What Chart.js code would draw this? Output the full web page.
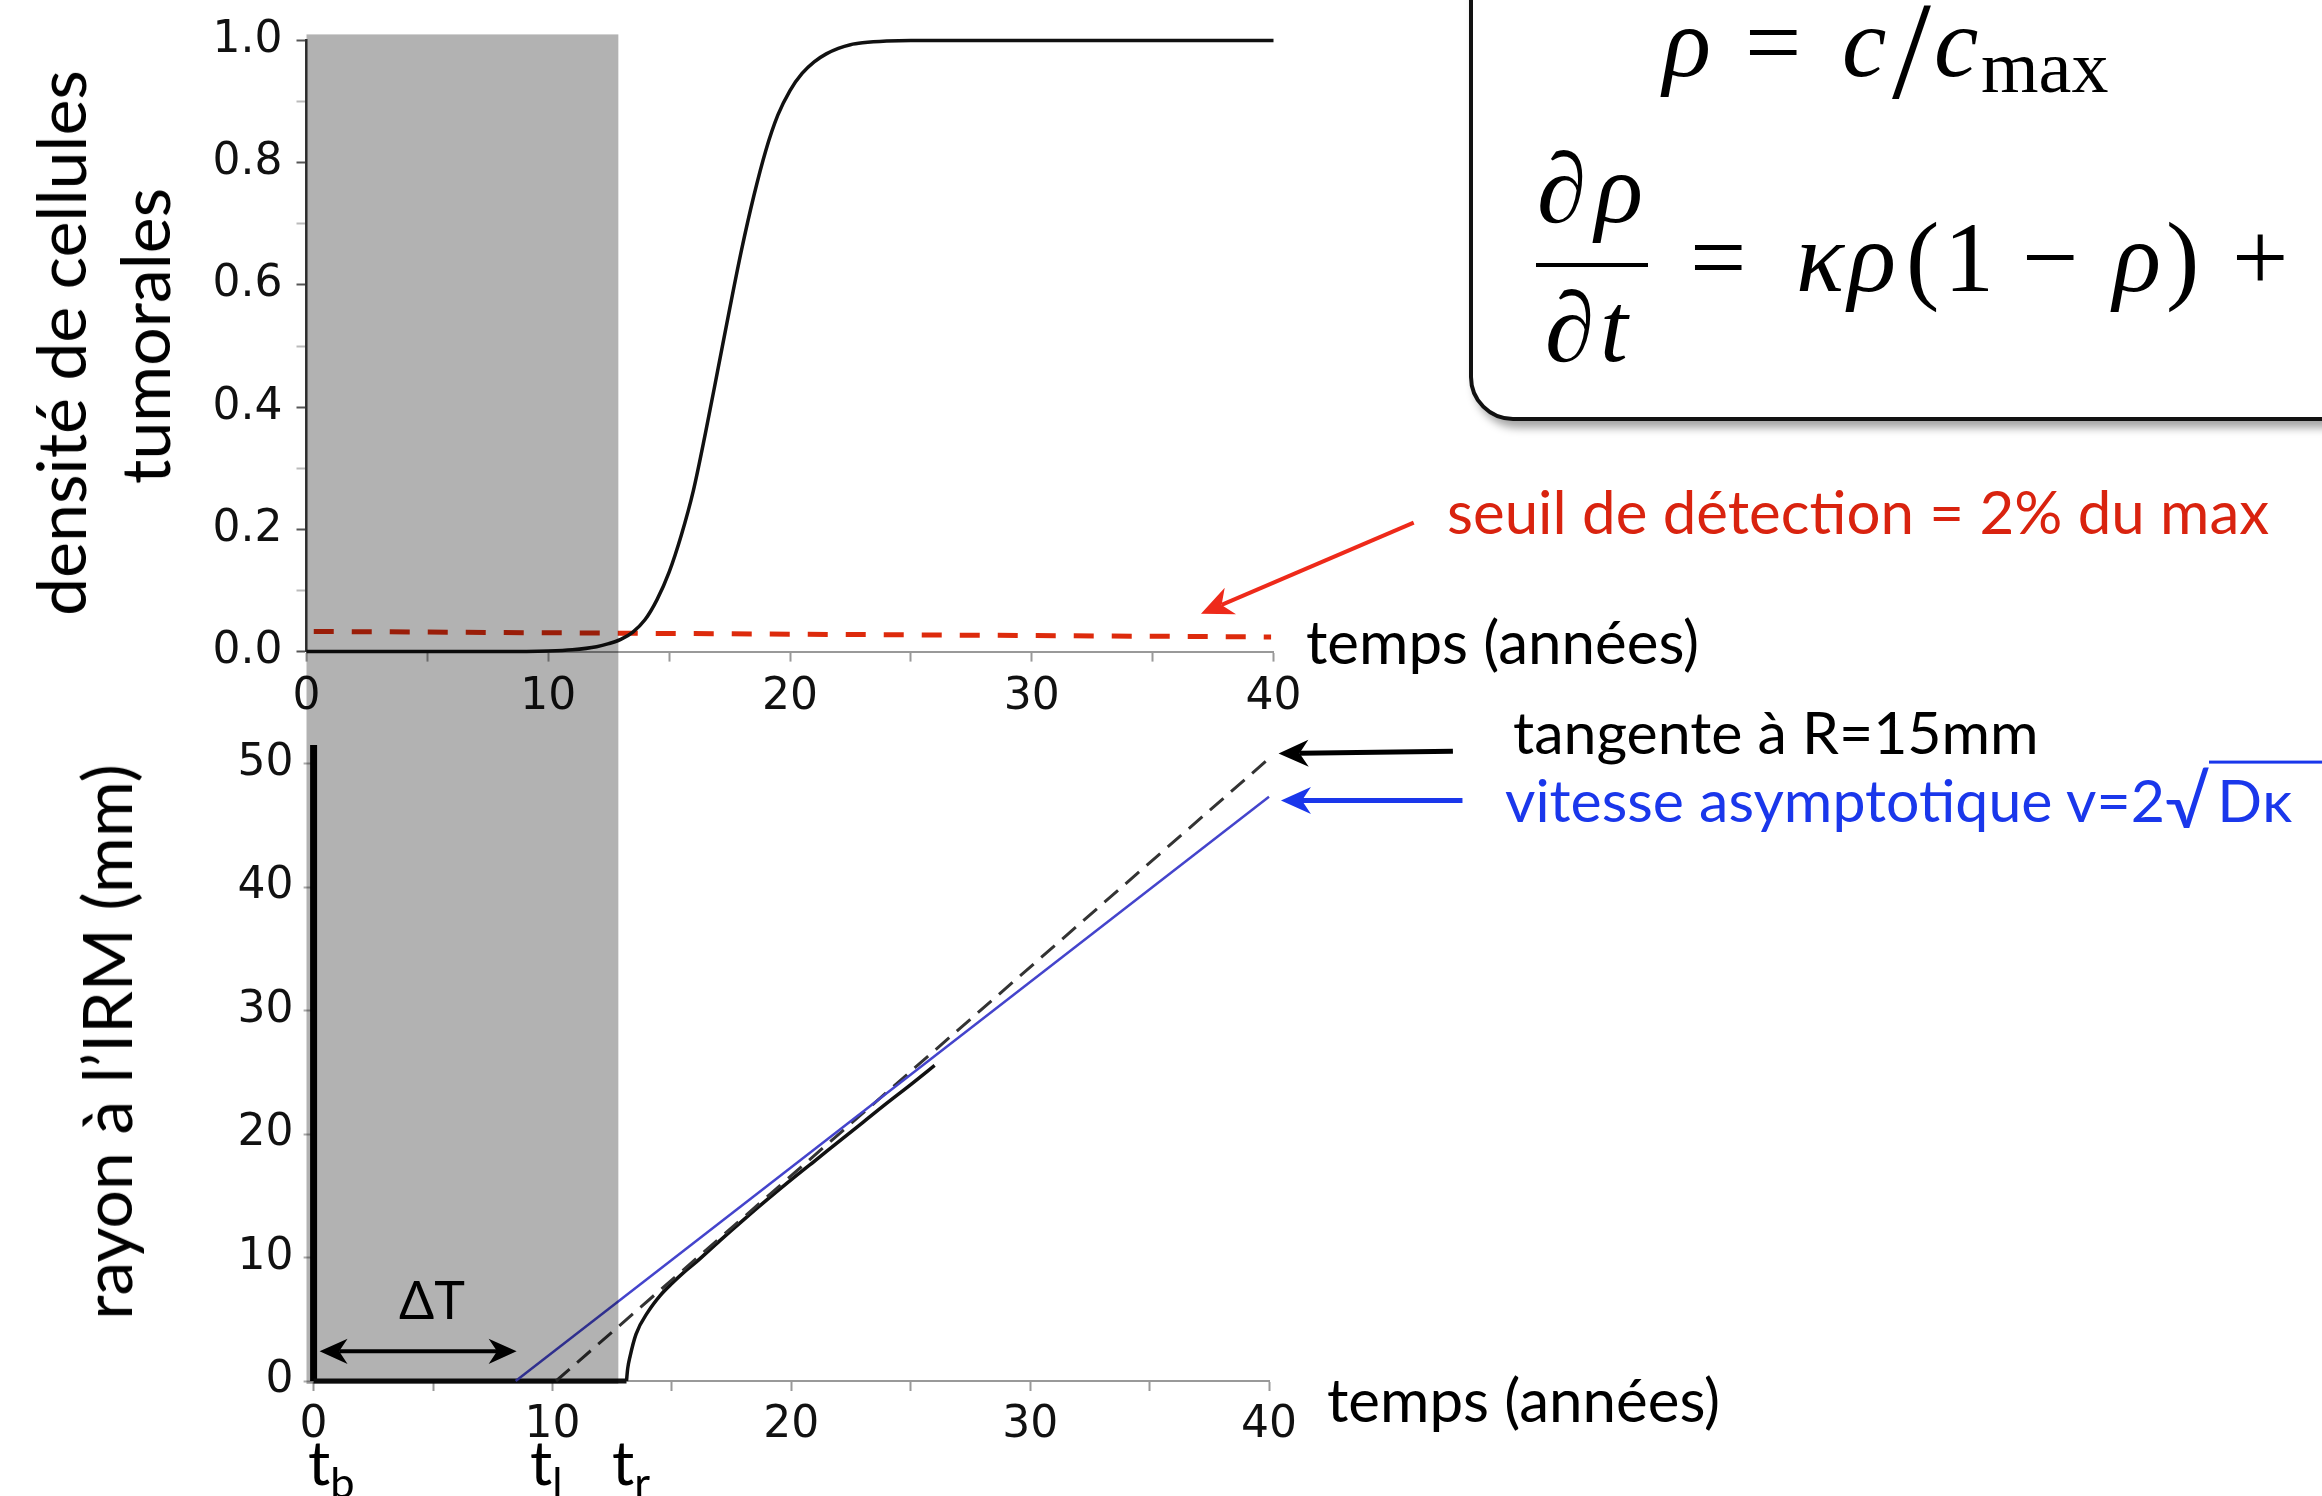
<!DOCTYPE html>
<html>
<head>
<meta charset="utf-8">
<script src="https://cdn.jsdelivr.net/npm/chart.js"></script>
<style>
body { margin:0; width:2322px; height:1496px; overflow:hidden; background:#fff; position:relative; }
canvas { position:absolute; left:0; top:0; }
.t { position:absolute; white-space:nowrap; font-family:Lato, 'Open Sans', sans-serif; line-height:1; color:#000; }
.mid { transform:translate(0,-50%); }
.rot { transform:translate(-50%,-50%) rotate(-90deg); }
.ctr { transform:translate(-50%,-50%); }
.t sub { font-size:0.7em; vertical-align:-0.3em; }
#eqbox { position:absolute; left:1469px; top:-80px; width:1000px; height:501px; box-sizing:border-box;
  border:4px solid #111; border-radius:44px; box-shadow:5px 7px 9px rgba(0,0,0,0.35); background:#fff; }
.m { position:absolute; white-space:nowrap; font-family:'Liberation Serif','DejaVu Serif',serif; line-height:1; color:#000; }
.l1 { font-size:100px; top:-7px; }
.l2 { font-size:100px; top:208px; }
.num { font-size:100px; top:139px; }
.den { font-size:100px; top:278px; }
.it { font-style:italic; }
#fracbar { position:absolute; left:1536px; top:263px; width:112px; height:4px; background:#000; }
.sq { font-size:1.2em; vertical-align:-0.08em; }
.ov { border-top:3px solid #1a37eb; padding-left:8px; padding-right:80px; }
</style>
</head>
<body>
<canvas id="chartTop" width="2322" height="1496"></canvas>
<canvas id="chartBottom" width="2322" height="1496"></canvas>

<div class="t rot" style="left:60px; top:343px; font-size:68px">densité de cellules</div>
<div class="t rot" style="left:144px; top:336px; font-size:68px">tumorales</div>
<div class="t rot" style="left:106px; top:1042px; font-size:68px">rayon à l’IRM (mm)</div>

<div class="t mid" style="left:1306px; top:641px; font-size:60px">temps (années)</div>
<div class="t mid" style="left:1327px; top:1399px; font-size:60px">temps (années)</div>
<div class="t mid" style="left:1447px; top:511px; font-size:60px; color:#d9230f">seuil de détection = 2% du max</div>
<div class="t mid" style="left:1513px; top:731px; font-size:59px">tangente à R=15mm</div>
<div class="t mid" style="left:1505px; top:801px; font-size:59px; color:#1a37eb">vitesse asymptotique v=2<span class="sq">√</span><span class="ov">Dκ</span></div>

<div class="t ctr" style="left:432px; top:1299px; font-size:52px">ΔT</div>
<div class="t" style="left:308px; top:1430px; font-size:62px">t<sub>b</sub></div>
<div class="t" style="left:530px; top:1430px; font-size:62px">t<sub>l</sub></div>
<div class="t" style="left:612px; top:1430px; font-size:62px">t<sub>r</sub></div>

<div id="eqbox"></div>
<span class="m l1 it" style="left:1663px">ρ</span>
<span class="m l1" style="left:1745px">=</span>
<span class="m l1 it" style="left:1842px">c</span>
<span class="m" style="left:1892px; top:-19px; font-size:140px">/</span>
<span class="m l1 it" style="left:1934px">c</span>
<span class="m" style="left:1981px; top:30px; font-size:74px">max</span>

<span class="m num it" style="left:1537px">∂</span>
<span class="m num it" style="left:1595px">ρ</span>
<div id="fracbar"></div>
<span class="m den it" style="left:1545px">∂</span>
<span class="m den it" style="left:1600px">t</span>

<span class="m l2" style="left:1690px">=</span>
<span class="m l2 it" style="left:1796px">κ</span>
<span class="m l2 it" style="left:1848px">ρ</span>
<span class="m l2" style="left:1906px">(</span>
<span class="m l2" style="left:1944px">1</span>
<span class="m l2" style="left:2022px">−</span>
<span class="m l2 it" style="left:2113px">ρ</span>
<span class="m l2" style="left:2166px">)</span>
<span class="m l2" style="left:2232px">+</span>

<script>
var rhoT = [0, 8, 10, 11, 12, 12.5, 13.0, 13.5, 14.0, 14.5, 15.0, 15.5, 16.0, 16.5, 17.0, 17.5, 18.0, 18.5, 19.0, 19.5, 20.0, 20.5, 21.0, 21.5, 22.0, 22.5, 23.0, 24.0, 25.0, 40];
var rhoV = [0, 0, 0.001, 0.003, 0.008, 0.013, 0.020, 0.032, 0.052, 0.085, 0.130, 0.190, 0.263, 0.357, 0.458, 0.560, 0.658, 0.745, 0.820, 0.878, 0.918, 0.946, 0.965, 0.978, 0.987, 0.993, 0.996, 0.999, 1.0, 1.0];
// seuil de detection (pointilles rouges)
var seuilT = [0.3, 39.9];
var seuilV = [0.033, 0.024];

// rayon visible a l'IRM
var rayonT = [13.1, 13.15, 13.25, 13.5, 14, 14.5, 15, 15.5, 16, 17, 18, 19, 20, 21, 22, 23, 24, 25, 26];
var rayonV = [0, 1.0, 2.0, 3.8, 5.6, 6.9, 7.9, 8.8, 9.6, 11.35, 13.05, 14.7, 16.3, 17.85, 19.4, 20.95, 22.5, 24.0, 25.55];
var plateT = [0, 13.1];
var plateV = [0, 0];
var tbT = [0, 0];
var tbV = [0, 51.5];
var asympT = [8.46, 40];
var asympV = [0, 47.3];
var tangT = [10.15, 40];
var tangV = [0, 50.4];

// zone grisee (avant detection)
var shade = [0, 12.9];

// fleches [x1, y1, x2, y2] en unites des axes
var seuilArrow = [45.8, 0.211, 37.0, 0.062];
var tangArrow = [47.7, 51.0, 40.4, 50.8];
var asympArrow = [48.1, 47.0, 40.5, 47.0];
var deltaArrow = [0.25, 2.4, 8.5, 2.4];

var xLabels = [0, 10, 20, 30, 40];
var rhoLabels = [0, 0.2, 0.4, 0.6, 0.8, 1.0];
var rayonLabels = [0, 10, 20, 30, 40, 50];

var W = 2322, H = 1496;
var tickFont = { family: 'DejaVu Sans', size: 44 };

function pts(xs, ys) {
    return xs.map(function (x, i) { return { x: x, y: ys[i] }; });
}

function head(ctx, x, y, a, hl, hw) {
    ctx.beginPath();
    ctx.moveTo(x, y);
    ctx.lineTo(x - hl * Math.cos(a) + hw * Math.sin(a), y - hl * Math.sin(a) - hw * Math.cos(a));
    ctx.lineTo(x - hl * 0.7 * Math.cos(a), y - hl * 0.7 * Math.sin(a));
    ctx.lineTo(x - hl * Math.cos(a) - hw * Math.sin(a), y - hl * Math.sin(a) + hw * Math.cos(a));
    ctx.closePath();
    ctx.fill();
}

function arrow(chart, a, color, w, hl, both) {
    var xs = chart.scales.x, ys = chart.scales.y, ctx = chart.ctx;
    var x1 = xs.getPixelForValue(a[0]), y1 = ys.getPixelForValue(a[1]);
    var x2 = xs.getPixelForValue(a[2]), y2 = ys.getPixelForValue(a[3]);
    var ang = Math.atan2(y2 - y1, x2 - x1);
    var c = Math.cos(ang), s = Math.sin(ang);
    ctx.save();
    ctx.strokeStyle = color;
    ctx.fillStyle = color;
    ctx.lineWidth = w;
    ctx.beginPath();
    ctx.moveTo(both ? x1 + c * hl * 0.7 : x1, both ? y1 + s * hl * 0.7 : y1);
    ctx.lineTo(x2 - c * hl * 0.7, y2 - s * hl * 0.7);
    ctx.stroke();
    head(ctx, x2, y2, ang, hl, hl * 0.45);
    if (both) head(ctx, x1, y1, ang + Math.PI, hl, hl * 0.45);
    ctx.restore();
}

var topNotes = {
    id: 'topNotes',
    afterDraw: function (chart) {
        arrow(chart, seuilArrow, '#ee2a1a', 4, 32, false);
    }
};

var topChart = new Chart(document.getElementById('chartTop'), {
    type: 'line',
    data: {
        datasets: [
            { data: pts(rhoT, rhoV), borderColor: '#111', borderWidth: 3.5, cubicInterpolationMode: 'monotone', pointRadius: 0, clip: false },
            { data: pts(seuilT, seuilV), borderColor: '#dd2a0c', borderWidth: 5, borderDash: [20, 18], pointRadius: 0, clip: false }
        ]
    },
    options: {
        responsive: false,
        animation: false,
        devicePixelRatio: 1,
        layout: { padding: { top: 32.6, right: W - 1273.5, left: 0, bottom: 0 } },
        plugins: { legend: { display: false }, tooltip: { enabled: false } },
        scales: {
            x: {
                type: 'linear', min: 0, max: 40,
                grid: { drawOnChartArea: false, tickLength: 10, tickColor: '#999', tickWidth: 2 },
                border: { color: '#999', width: 2 },
                ticks: {
                    stepSize: 5, autoSkip: false, maxRotation: 0, padding: 10, color: '#111', font: tickFont,
                    callback: function (v) { return xLabels.indexOf(v) >= 0 ? String(v) : ''; }
                },
                afterFit: function (s) { s.height = H - 651.6; }
            },
            y: {
                min: 0, max: 1,
                grid: {
                    drawOnChartArea: false, tickLength: 10, tickWidth: 2,
                    tickColor: function (c) { return Math.round(c.tick.value * 10) % 2 === 0 ? '#555' : '#bbb'; }
                },
                border: { color: '#333', width: 2.5 },
                ticks: {
                    stepSize: 0.1, autoSkip: false, padding: 14, color: '#111', font: tickFont,
                    callback: function (v) {
                        var r = Math.round(v * 10) / 10;
                        return rhoLabels.indexOf(r) >= 0 ? r.toFixed(1) : '';
                    }
                },
                afterFit: function (s) { s.width = 306.5; }
            }
        }
    },
    plugins: [topNotes]
});

var bottomNotes = {
    id: 'bottomNotes',
    afterDraw: function (chart) {
        arrow(chart, tangArrow, '#000', 5, 30, false);
        arrow(chart, asympArrow, '#1a37eb', 5, 30, false);
        arrow(chart, deltaArrow, '#000', 4, 28, true);
        // voile gris sur la periode non detectee, des deux graphes
        var tx = topChart.scales.x, ty = topChart.scales.y, ys = chart.scales.y;
        var x0 = tx.getPixelForValue(shade[0]), x1 = tx.getPixelForValue(shade[1]);
        var y0 = ty.getPixelForValue(1) - 6, y1 = ys.getPixelForValue(0) + 3;
        chart.ctx.save();
        chart.ctx.fillStyle = 'rgba(0,0,0,0.3)';
        chart.ctx.fillRect(x0, y0, x1 - x0, y1 - y0);
        chart.ctx.restore();
    }
};

var bottomChart = new Chart(document.getElementById('chartBottom'), {
    type: 'line',
    data: {
        datasets: [
            { data: pts(asympT, asympV), borderColor: '#4444cc', borderWidth: 2.5, pointRadius: 0, clip: false },
            { data: pts(tangT, tangV), borderColor: '#333', borderWidth: 3, borderDash: [18, 10], pointRadius: 0, clip: false },
            { data: pts(rayonT, rayonV), borderColor: '#111', borderWidth: 3.5, cubicInterpolationMode: 'monotone', pointRadius: 0, clip: false },
            { data: pts(plateT, plateV), borderColor: '#111', borderWidth: 5, pointRadius: 0, clip: false },
            { data: pts(tbT, tbV), borderColor: '#000', borderWidth: 7, pointRadius: 0, clip: false }
        ]
    },
    options: {
        responsive: false,
        animation: false,
        devicePixelRatio: 1,
        layout: { padding: { top: 763.5, right: W - 1269, left: 0, bottom: 0 } },
        plugins: { legend: { display: false }, tooltip: { enabled: false } },
        scales: {
            x: {
                type: 'linear', min: 0, max: 40,
                grid: { drawOnChartArea: false, tickLength: 10, tickColor: '#999', tickWidth: 2 },
                border: { color: '#999', width: 2 },
                ticks: {
                    stepSize: 5, autoSkip: false, maxRotation: 0, padding: 8, color: '#111', font: tickFont,
                    callback: function (v) { return xLabels.indexOf(v) >= 0 ? String(v) : ''; }
                },
                afterFit: function (s) { s.height = H - 1381; }
            },
            y: {
                min: 0, max: 50,
                grid: { drawOnChartArea: false, tickLength: 10, tickColor: '#aaa', tickWidth: 2 },
                border: { color: '#aaa', width: 2 },
                ticks: {
                    stepSize: 10, autoSkip: false, padding: 10, color: '#111', font: tickFont,
                    callback: function (v) { return rayonLabels.indexOf(v) >= 0 ? String(v) : ''; }
                },
                afterFit: function (s) { s.width = 313.6; }
            }
        }
    },
    plugins: [bottomNotes]
});
</script>
</body>
</html>
